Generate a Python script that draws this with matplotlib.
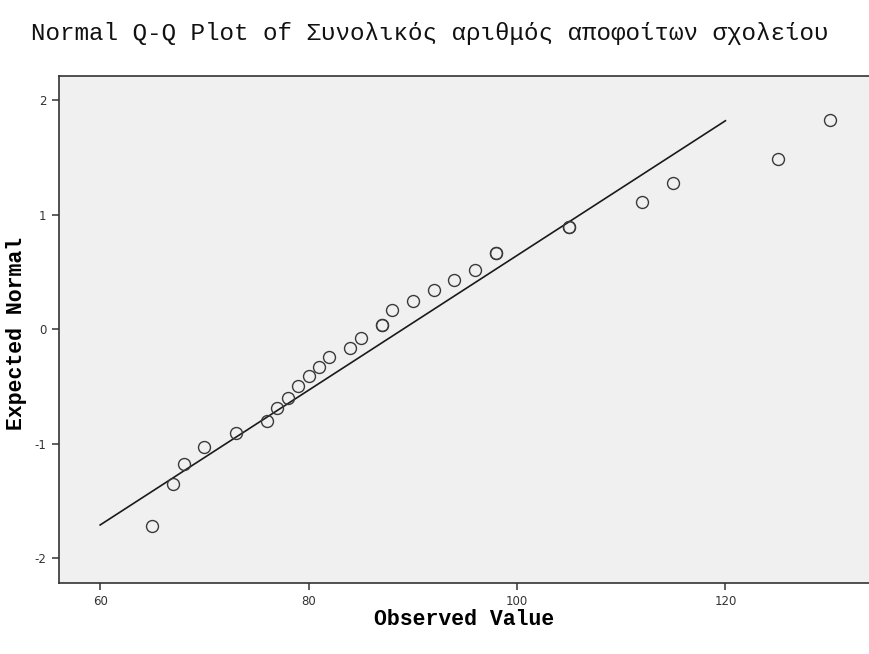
import numpy as np
import matplotlib
matplotlib.use("Agg")
import matplotlib.pyplot as plt

# observed values and their expected normal scores (ties repeated)
observed = [65, 67, 68, 70, 73, 76, 77, 78, 79, 80, 81, 82, 84, 85, 87, 87,
            88, 90, 92, 94, 96, 98, 98, 105, 105, 112, 115, 125, 130]
expected = [-1.72, -1.35, -1.18, -1.03, -0.91, -0.80, -0.69, -0.60, -0.50,
            -0.41, -0.33, -0.24, -0.16, -0.08, 0.04, 0.04, 0.17, 0.25, 0.34,
            0.43, 0.52, 0.67, 0.67, 0.89, 0.89, 1.11, 1.28, 1.49, 1.83]

# reference line: y = (x - mean) / sd
line_x = [60, 120]
mean_val = 89.05
sd_val = 16.98

xticks = [60, 80, 100, 120]
yticks = [-2, -1, 0, 1, 2]

title = "Normal Q-Q Plot of Συνολικός αριθμός αποφοίτων σχολείου"
xlabel = "Observed Value"
ylabel = "Expected Normal"

plt.rcParams['axes.unicode_minus'] = False
mono = ['Liberation Mono', 'DejaVu Sans Mono']
dark = '#333333'

fig = plt.figure(figsize=(8.69, 6.54), dpi=100)
ax = fig.add_axes([0.0679, 0.1086, 0.9321, 0.7752])
ax.set_facecolor('#f0f0f0')

lx = np.array(line_x, dtype=float)
ax.plot(lx, (lx - mean_val) / sd_val, color='#1a1a1a', lw=1.2, zorder=2)
ax.plot(observed, expected, 'o', ms=8.6, mfc='none', mec='#3a3a3a', mew=1.0, zorder=3)

ax.set_xlim(56.05, 133.78)
ax.set_ylim(-2.218, 2.214)
ax.set_xticks(xticks)
ax.set_yticks(yticks)

for side in ['left', 'bottom', 'top']:
    ax.spines[side].set_color(dark)
    ax.spines[side].set_linewidth(1.2)
ax.spines['right'].set_visible(False)

ax.tick_params(axis='both', direction='out', length=5, width=1.1, color=dark,
               labelsize=8.5, labelcolor='#333333', pad=4)

ax.set_xlabel(xlabel, family=mono, fontsize=15.5, fontweight='bold', va='center')
ax.xaxis.set_label_coords(0.5, -0.073)
ax.set_ylabel(ylabel, family=mono, fontsize=15.5, fontweight='bold', va='center')
ax.yaxis.set_label_coords(-0.052, 0.493)

fig.text(0.494, 0.939, title, family=mono, fontsize=17.5, ha='center',
         va='baseline', color='#111111')

fig.savefig('out.png', dpi=100)
